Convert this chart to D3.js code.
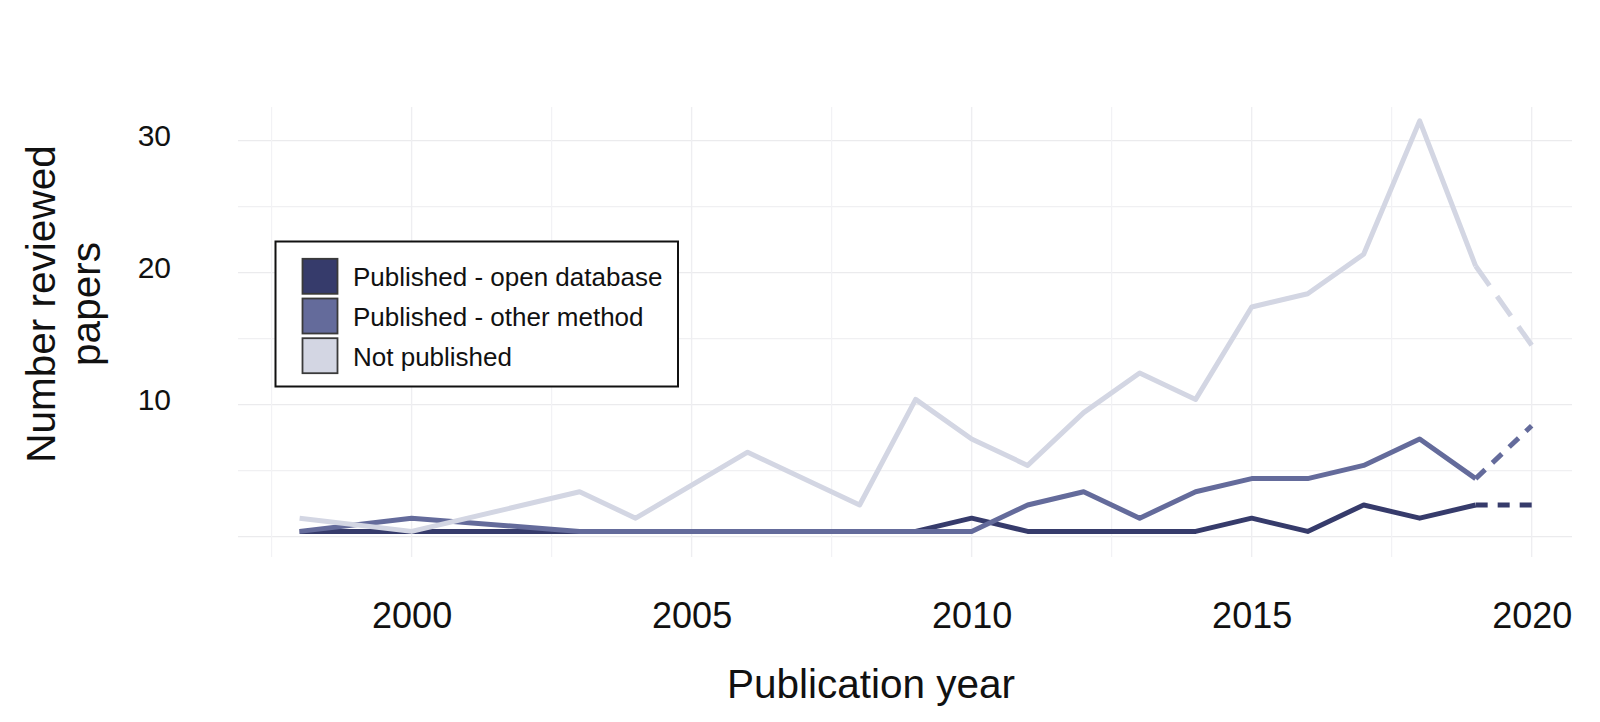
<!DOCTYPE html>
<html><head><meta charset="utf-8">
<script src="https://cdn.jsdelivr.net/npm/d3@7"></script>
<style>
body{margin:0;background:#fff}
svg{display:block}
text{font-family:"Liberation Sans",Arial,Helvetica,sans-serif;fill:#111}
</style>
</head><body>
<svg id="chart" width="1600" height="722"></svg>
<script>
// ---- data ----
const years = [1998,1999,2000,2001,2002,2003,2004,2005,2006,2007,2008,2009,2010,2011,2012,2013,2014,2015,2016,2017,2018,2019,2020];
const openDatabase = [0.4,0.4,0.4,0.4,0.4,0.4,0.4,0.4,0.4,0.4,0.4,0.4,1.4,0.4,0.4,0.4,0.4,1.4,0.4,2.4,1.4,2.4,2.4];
const otherMethod  = [0.4,null,1.4,null,null,0.4,0.4,0.4,0.4,0.4,0.4,0.4,0.4,2.4,3.4,1.4,3.4,4.4,4.4,5.4,7.4,4.4,8.4];
const notPublished = [1.4,null,0.4,null,null,3.4,1.4,null,6.4,null,2.4,10.4,7.4,5.4,9.4,12.4,10.4,17.4,18.4,21.4,31.5,20.5,14.5];
const seriesNames  = ["Published - open database","Published - other method","Not published"];
const seriesColors = ["#363b6b","#646b9b","#d3d6e3"];
const xTickValues  = [2000,2005,2010,2015,2020];
const xMinorValues = [1997.5,2002.5,2007.5,2012.5,2017.5];
const yTickValues  = [10,20,30];
const yGridMajor   = [0,10,20,30];
const yGridMinor   = [5,15,25];
const lastSolidYear = 2019;

// ---- layout ----
const svg = d3.select("#chart");
const panel = {left:238, right:1572, top:107, bottom:557};
const x = d3.scaleLinear().domain([1996.9, 2020.72]).range([panel.left, panel.right]);
const y = d3.scaleLinear().domain([-1.54, 32.55]).range([panel.bottom, panel.top]);

// gridlines
const grid = svg.append("g");
grid.selectAll(".hmin").data(yGridMinor).join("line")
  .attr("x1",panel.left).attr("x2",panel.right)
  .attr("y1",d=>y(d)).attr("y2",d=>y(d))
  .attr("stroke","#f0f0f2").attr("stroke-width",1.2);
grid.selectAll(".hmaj").data(yGridMajor).join("line")
  .attr("x1",panel.left).attr("x2",panel.right)
  .attr("y1",d=>y(d)).attr("y2",d=>y(d))
  .attr("stroke","#ebebed").attr("stroke-width",1.4);
grid.selectAll(".vmin").data(xMinorValues).join("line")
  .attr("y1",panel.top).attr("y2",panel.bottom)
  .attr("x1",d=>x(d)).attr("x2",d=>x(d))
  .attr("stroke","#f2f2f5").attr("stroke-width",1.2);
grid.selectAll(".vmaj").data(xTickValues).join("line")
  .attr("y1",panel.top).attr("y2",panel.bottom)
  .attr("x1",d=>x(d)).attr("x2",d=>x(d))
  .attr("stroke","#eeeef1").attr("stroke-width",1.4);

// axes via d3 axis generators (text only)
const xAxis = d3.axisBottom(x).tickValues(xTickValues).tickFormat(d3.format("d")).tickSize(0).tickPadding(0);
const gx = svg.append("g").attr("transform",`translate(0,${panel.bottom})`).call(xAxis);
gx.select(".domain").remove();
gx.selectAll("text").attr("font-size",36).attr("fill","#111")
  .attr("dy",null).attr("y",71).attr("font-family",'"Liberation Sans",Arial,sans-serif');

const yAxis = d3.axisLeft(y).tickValues(yTickValues).tickFormat(d3.format("d")).tickSize(0).tickPadding(0);
const gy = svg.append("g").attr("transform",`translate(171,0)`).call(yAxis);
gy.select(".domain").remove();
gy.selectAll("text").attr("font-size",30).attr("fill","#111")
  .attr("dy",null).attr("y",5).attr("x",0).attr("text-anchor","end")
  .attr("font-family",'"Liberation Sans",Arial,sans-serif');

// axis titles
svg.append("text").attr("x",871).attr("y",698).attr("text-anchor","middle")
  .attr("font-size",40.5).text("Publication year");
const yt = svg.append("g").attr("transform","translate(0,304) rotate(-90)");
yt.append("text").attr("x",0).attr("y",55).attr("text-anchor","middle").attr("font-size",40.5).text("Number reviewed");
yt.append("text").attr("x",0).attr("y",100).attr("text-anchor","middle").attr("font-size",40.5).text("papers");

// lines
const seriesValues = [openDatabase, otherMethod, notPublished];
const dashPatterns = ["12,10","13,10","24,13"];
const line = d3.line().x(d=>x(d.year)).y(d=>y(d.value));
const lines = svg.append("g");
seriesValues.forEach((vals,i)=>{
  const pts = years.map((yr,j)=>({year:yr,value:vals[j]})).filter(d=>d.value!==null);
  const solid = pts.filter(d=>d.year<=lastSolidYear);
  const dashed = pts.filter(d=>d.year>=lastSolidYear);
  lines.append("path").attr("d",line(solid)).attr("fill","none")
    .attr("stroke",seriesColors[i]).attr("stroke-width",5)
    .attr("stroke-linejoin","round").attr("stroke-linecap","butt");
  lines.append("path").attr("d",line(dashed)).attr("fill","none")
    .attr("stroke",seriesColors[i]).attr("stroke-width",5)
    .attr("stroke-dasharray",dashPatterns[i]).attr("stroke-linecap","butt");
});

// legend
const lg = svg.append("g");
lg.append("rect").attr("x",275.5).attr("y",241.5).attr("width",402.5).attr("height",145)
  .attr("fill","#fff").attr("stroke","#111").attr("stroke-width",2);
seriesNames.forEach((name,i)=>{
  const cy = 276.3 + i*39.7;
  lg.append("rect").attr("x",302.5).attr("y",cy-17.5).attr("width",35).attr("height",35)
    .attr("fill",seriesColors[i]).attr("stroke","#3a3a3a").attr("stroke-width",1.8);
  lg.append("text").attr("x",353).attr("y",cy+10).attr("font-size",26).attr("fill","#1a1a1a").text(name);
});
</script>
</body></html>
